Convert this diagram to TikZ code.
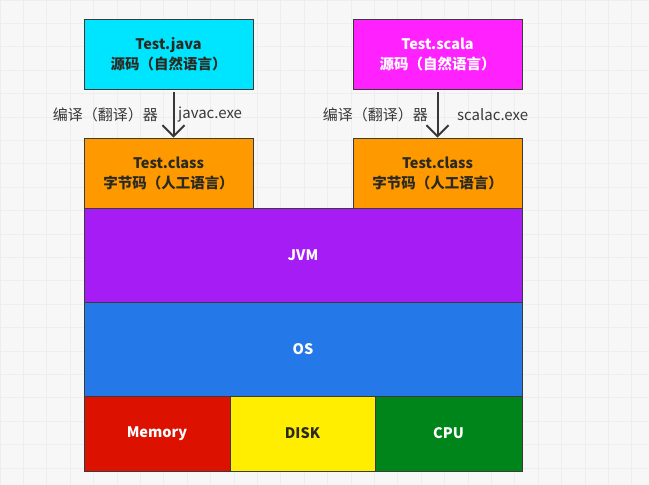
\documentclass[tikz,border=0pt]{standalone}
\usepackage{fontspec}
\setmainfont{Noto Sans CJK SC}
\usetikzlibrary{arrows.meta,positioning}
\definecolor{srccyan}{HTML}{00E5FF}
\definecolor{srcpink}{HTML}{FF22FF}
\definecolor{classorange}{HTML}{FF9900}
\definecolor{jvmpurple}{HTML}{A61CF5}
\definecolor{osblue}{HTML}{2478E8}
\definecolor{memred}{HTML}{DD1100}
\definecolor{diskyellow}{HTML}{FFEE00}
\definecolor{cpugreen}{HTML}{00851A}
\definecolor{boxline}{HTML}{3A3A3A}
\definecolor{gridgray}{HTML}{EEEEEE}
\definecolor{darktext}{HTML}{2A2A22}
\definecolor{lbltext}{HTML}{383838}

\begin{document}
\begin{tikzpicture}[x=1pt,y=-1pt,
	box/.style={draw=boxline, line width=0.8pt, inner sep=0pt, align=center,
		font=\bfseries\fontsize{14.5}{20}\selectfont},
	lbl/.style={inner sep=0pt, text=lbltext, font=\fontsize{15}{17}\selectfont},
	arr/.style={draw=lbltext, line width=2pt, -{Straight Barb[length=11pt,width=22pt,line width=2pt]}}]
	\useasboundingbox (0,0) rectangle (649,485);
	\fill[white!97!black] (0,0) rectangle (649,485);
	% faint grid
	\foreach \gx in {0,23.4,...,649} \draw[gridgray, line width=1pt] (\gx,0) -- (\gx,485);
	\foreach \gy in {0,23.4,...,485} \draw[gridgray, line width=1pt] (0,\gy) -- (649,\gy);

	% source files
	\node[box, fill=srccyan, text=darktext, minimum width=169pt, minimum height=70pt] (java) at (168.5,54) {Test.java\\源码（自然语言）};
	\node[box, fill=srcpink, text=white, minimum width=169pt, minimum height=70pt] (scala) at (437.5,54) {Test.scala\\源码（自然语言）};

	% bytecode
	\node[box, fill=classorange, text=darktext, minimum width=169pt, minimum height=70pt] (classJ) at (168.5,173) {Test.class\\字节码（人工语言）};
	\node[box, fill=classorange, text=darktext, minimum width=169pt, minimum height=70pt] (classS) at (437.5,173) {Test.class\\字节码（人工语言）};

	% layers
	\node[box, fill=jvmpurple, text=white, minimum width=438pt, minimum height=94pt] (jvm) at (303,255) {JVM};
	\node[box, fill=osblue, text=white, minimum width=438pt, minimum height=94pt] (os) at (303,349) {OS};
	\node[box, fill=memred, text=white, minimum width=146pt, minimum height=75pt] (mem) at (157,433.5) {Memory};
	\node[box, fill=diskyellow, text=darktext, minimum width=145pt, minimum height=75pt] (disk) at (302.5,433.5) {DISK};
	\node[box, fill=cpugreen, text=white, minimum width=147pt, minimum height=75pt] (cpu) at (448.5,433.5) {CPU};

	% compilers
	\draw[arr, shorten <=3pt] ([xshift=5pt]java.south) -- ([xshift=5pt]classJ.north);
	\draw[arr, shorten <=3pt] (scala) -- (classS);

	\node[lbl, anchor=east] (compJ) at (158,115) {编译（翻译）器};
	\node[lbl, anchor=west] (javac) at (178,115) {javac.exe};
	\node[lbl, anchor=east] (compS) at (428,115) {编译（翻译）器};
	\node[lbl, anchor=west] (scalac) at (457,115) {scalac.exe};
\end{tikzpicture}
\end{document}
